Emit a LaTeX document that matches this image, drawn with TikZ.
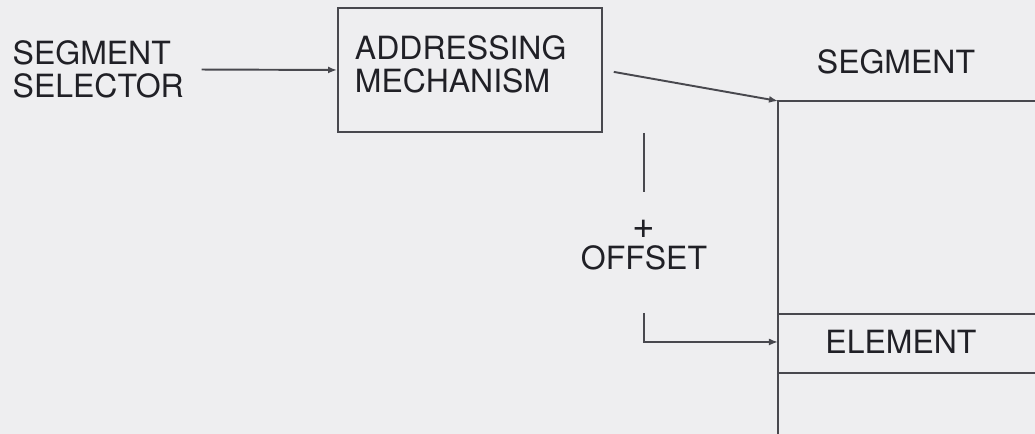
\documentclass[tikz,border=0pt]{standalone}
\usepackage{fontspec}
\setmainfont{TeX Gyre Heros}
\usetikzlibrary{positioning, arrows.meta, calc}
\definecolor{PaperGray}{RGB}{238,238,240}
\definecolor{InkGray}{RGB}{72,72,78}
\definecolor{TextGray}{RGB}{32,32,38}

\tikzset{
  caption/.style={font=\fontsize{9.1}{9.4}\selectfont, text=TextGray, inner sep=0.5mm},
  wire/.style={InkGray, line width=0.55pt},
  link/.style={wire, -{Latex[length=0.9mm,width=0.7mm]}},
}

\begin{document}
\begin{tikzpicture}
    % Paper
    \fill[PaperGray] (0,0) rectangle (10.35,4.34);
    \useasboundingbox (0,0) rectangle (10.35,4.34);

    % Selector and addressing box
    \node[caption, align=left, anchor=west] (sel) at (0.07,3.645) {SEGMENT\\SELECTOR};
    \node[caption, draw=InkGray, line width=0.55pt, minimum width=2.64cm, minimum height=1.24cm,
          text width=2.30cm, inner xsep=0.17cm, text depth=0.45cm, align=left] (addr) at (4.70,3.64) {ADDRESSING\\MECHANISM};

    % Segment in memory
    \coordinate (segtl) at (7.78,3.33);
    \draw[wire] (10.35,3.33) -- (segtl) -- (7.78,0);
    \draw[wire] (7.78,1.20) -- (10.35,1.20);
    \draw[wire] (7.78,0.61) -- (10.35,0.61);
    \node[caption] (segname) at (8.96,3.72) {SEGMENT};
    \node[caption] (elem) at (9.01,0.92) {ELEMENT};

    % Offset
    \node[caption, align=center] (off) at (6.44,1.89) {{\fontsize{11}{9.4}\selectfont+}\\[-0.5pt]OFFSET};

    % Arrows
    \draw[link, shorten <=1.2mm] (sel.east) -- (addr.west);
    \draw[link, shorten <=1.1mm] (addr.east) -- (segtl);
    \draw[wire, shorten >=2.2mm] (addr.south -| off.north) -- (off.north);
    \draw[link, shorten <=3.7mm] (off.south) |- (segtl |- elem);
\end{tikzpicture}
\end{document}
